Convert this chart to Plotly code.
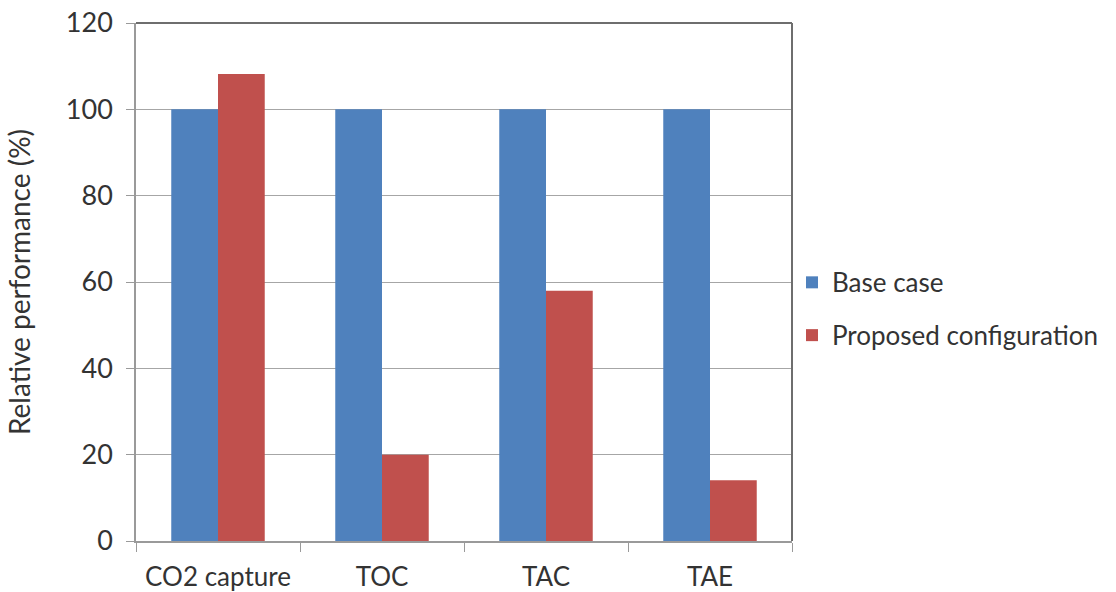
import plotly.graph_objects as go

categories = ["CO2 capture", "TOC", "TAC", "TAE"]
base_case = [100, 100, 100, 100]
proposed = [108.2, 20, 58, 14.1]
y_ticks = [0, 20, 40, 60, 80, 100, 120]

FONT = "Lato, Carlito, Calibri, sans-serif"

fig = go.Figure()
fig.add_trace(go.Bar(x=categories, y=base_case, name="Base case", legendgroup="a",
                     marker=dict(color="#4F81BD", line=dict(width=0))))
fig.add_trace(go.Bar(x=categories, y=proposed, name="Proposed configuration", legendgroup="b",
                     marker=dict(color="#C0504D", line=dict(width=0))))

fig.update_layout(
    width=1116, height=592,
    margin=dict(l=136, r=324, t=23, b=51),
    paper_bgcolor="white", plot_bgcolor="white",
    barmode="group", bargap=0.43, bargroupgap=0,
    font=dict(family=FONT, size=27, color="#333333"),
    legend=dict(x=1.0, y=0.448, xanchor="left", yanchor="middle",
                font=dict(size=26, color="#333333"),
                traceorder="grouped", tracegroupgap=16,
                bgcolor="rgba(0,0,0,0)"),
    showlegend=True,
)
# darker top and right plot-area border
fig.add_shape(type="line", xref="x domain", yref="y domain", x0=0, x1=1, y0=1, y1=1,
              line=dict(color="#6e6e6e", width=2), layer="above")
fig.add_shape(type="line", xref="x domain", yref="y domain", x0=1, x1=1, y0=0, y1=1,
              line=dict(color="#6e6e6e", width=2), layer="above")

fig.update_xaxes(
    type="category", showline=True, linecolor="#9a9a9a", linewidth=1.5,
    mirror=False, ticks="outside", tickson="boundaries", ticklen=9,
    tickcolor="#9a9a9a", showgrid=False, automargin=False,
    ticklabelstandoff=12,
    tickfont=dict(size=26, color="#333333"),
)
fig.update_yaxes(
    range=[0, 120], tickvals=y_ticks, showline=True, linecolor="#9a9a9a",
    linewidth=1.5, mirror=False, ticks="outside", ticklen=8, tickcolor="#9a9a9a",
    showgrid=True, gridcolor="#a6a6a6", gridwidth=1, zeroline=False,
    automargin=False, ticklabelstandoff=8,
    tickfont=dict(size=27, color="#333333"),
    title=dict(text="Relative performance (%)", font=dict(size=28, color="#333333"),
               standoff=27),
)

fig.write_html("out.html")
